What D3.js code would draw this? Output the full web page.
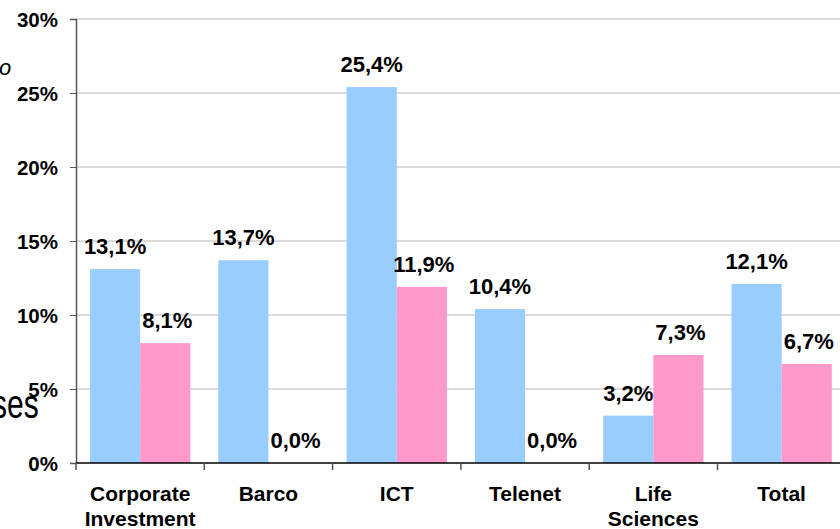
<!DOCTYPE html>
<html>
<head>
<meta charset="utf-8">
<script src="https://cdnjs.cloudflare.com/ajax/libs/d3/7.8.5/d3.min.js"></script>
<style>
  body { margin: 0; background: #fff; }
  svg { display: block; font-family: "Liberation Sans", Arial, sans-serif; }
</style>
</head>
<body>
<div class="chart"></div>
<script>
var categories = ["Corporate\nInvestment", "Barco", "ICT", "Telenet", "Life\nSciences", "Total"];
var seriesNames = ["blue", "pink"];
var blueValues = [13.1, 13.7, 25.4, 10.4, 3.2, 12.1];
var pinkValues = [8.1, 0.0, 11.9, 0.0, 7.3, 6.7];
var yTicks = [0, 5, 10, 15, 20, 25, 30];

var width = 840, height = 529;
var colors = {blue: "#99ccff", pink: "#ff99cc"};

var rows = categories.map(function(c, i) {
  return {cat: c, blue: blueValues[i], pink: pinkValues[i]};
});

var svg = d3.select(".chart")
            .append("svg")
            .attr("width", width)
            .attr("height", height);

var x = d3.scaleBand()
          .domain(categories)
          .range([76, 76 + 6 * 128.3]);

var x1 = d3.scaleBand()
           .domain(seriesNames)
           .range([14, x.bandwidth() - 14]);

var y = d3.scaleLinear()
          .domain([0, 30])
          .range([463, 19]);

var comma = d3.formatLocale({decimal: ",", thousands: ".", grouping: [3], currency: ["", ""]});
var fmt = comma.format(".1f");

// fragments of other slide text at left edge
svg.append("text")
   .attr("x", -1).attr("y", 75)
   .style("font-size", "22px").style("font-style", "italic")
   .text("o");
svg.append("text")
   .attr("transform", "translate(-8,418) scale(1,1.35)")
   .style("font-size", "30px")
   .text("ses");

// gridlines
svg.append("g")
   .selectAll("line")
   .data(yTicks.filter(function(d) { return d > 0; }))
 .enter().append("line")
   .attr("x1", 76).attr("x2", width)
   .attr("y1", function(d) { return y(d); })
   .attr("y2", function(d) { return y(d); })
   .attr("stroke", "#cfcfcf")
   .attr("stroke-width", 1.5);

// bars
var groups = svg.append("g")
   .selectAll("g")
   .data(rows)
 .enter().append("g")
   .attr("transform", function(d) { return "translate(" + x(d.cat) + ",0)"; });

groups.selectAll("rect")
   .data(function(d) { return seriesNames.map(function(s) { return {s: s, v: d[s]}; }); })
 .enter().append("rect")
   .attr("x", function(d) { return x1(d.s); })
   .attr("width", x1.bandwidth())
   .attr("y", function(d) { return y(d.v); })
   .attr("height", function(d) { return y(0) - y(d.v); })
   .attr("fill", function(d) { return colors[d.s]; });

groups.selectAll("text.val")
   .data(function(d) { return seriesNames.map(function(s) { return {s: s, v: d[s]}; }); })
 .enter().append("text")
   .attr("class", "val")
   .attr("x", function(d) { return x1(d.s) + x1.bandwidth() / 2 + (d.s == "pink" ? 2 : 0); })
   .attr("y", function(d) { return y(d.v) - 15; })
   .attr("text-anchor", "middle")
   .style("font-size", "22px")
   .style("font-weight", "bold")
   .text(function(d) { return fmt(d.v) + "%"; });

// y axis
var yAxis = svg.append("g")
   .attr("transform", "translate(76,0)")
   .call(d3.axisLeft(y).tickValues(yTicks).tickSize(6).tickFormat(function(d) { return d + "%"; }));
yAxis.select(".domain").attr("stroke", "#555").attr("stroke-width", 1.5);
yAxis.selectAll(".tick line").attr("stroke", "#555");
yAxis.selectAll(".tick text")
   .attr("x", -18)
   .attr("dy", "0.36em")
   .style("font-size", "20.5px")
   .style("font-weight", "bold")
   .style("font-family", "'Liberation Sans', Arial, sans-serif")
   .attr("fill", "#000");

// x axis line and category separators
svg.append("line")
   .attr("x1", 76).attr("x2", width)
   .attr("y1", y(0)).attr("y2", y(0))
   .attr("stroke", "#000").attr("stroke-width", 1.5);

svg.append("g")
   .selectAll("line")
   .data(categories)
 .enter().append("line")
   .attr("x1", function(d) { return x(d); })
   .attr("x2", function(d) { return x(d); })
   .attr("y1", y(0)).attr("y2", y(0) + 7)
   .attr("stroke", "#555").attr("stroke-width", 1.5);

var catLabels = svg.append("g")
   .selectAll("text")
   .data(categories)
 .enter().append("text")
   .attr("x", function(d) { return x(d) + x.bandwidth() / 2; })
   .attr("y", 501)
   .attr("text-anchor", "middle")
   .style("font-size", "21px")
   .style("font-weight", "bold");

catLabels.selectAll("tspan")
   .data(function(d) { return d.split("\n"); })
 .enter().append("tspan")
   .attr("x", function() { var p = this.parentNode; return p.getAttribute("x"); })
   .attr("dy", function(d, i) { return i ? 25 : 0; })
   .text(function(d) { return d; });
</script>
</body>
</html>
